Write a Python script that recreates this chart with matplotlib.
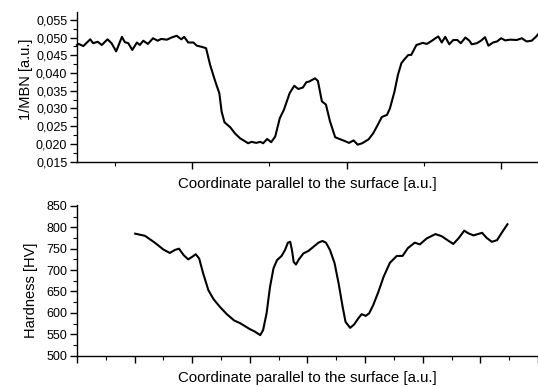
import matplotlib
matplotlib.use("Agg")
from matplotlib import pyplot as plt
from matplotlib.ticker import FixedLocator, MultipleLocator, FuncFormatter

# 1/MBN profile (upper panel), position in a.u.
mbn_x = [0.00, 0.03, 0.11, 0.23, 0.28, 0.36, 0.43, 0.53, 0.60, 0.68, 0.78, 0.83,
         0.89, 0.96, 1.04, 1.09, 1.15, 1.23, 1.32, 1.40, 1.46, 1.56, 1.64, 1.73,
         1.81, 1.86, 1.93, 2.02, 2.08, 2.16, 2.24, 2.31, 2.40, 2.47, 2.51, 2.56,
         2.66, 2.74, 2.83, 2.92, 2.97, 3.03, 3.11, 3.18, 3.23, 3.30, 3.37, 3.44,
         3.52, 3.59, 3.69, 3.77, 3.84, 3.92, 3.98, 4.03, 4.13, 4.18, 4.25, 4.32,
         4.39, 4.48, 4.57, 4.65, 4.72, 4.80, 4.87, 4.95, 5.06, 5.14, 5.22, 5.29,
         5.38, 5.43, 5.51, 5.57, 5.63, 5.69, 5.75, 5.80, 5.89, 5.95, 6.00, 6.07,
         6.16, 6.22, 6.27, 6.33, 6.39, 6.46, 6.53, 6.60, 6.66, 6.74, 6.81, 6.85,
         6.94, 7.01, 7.08, 7.14, 7.22, 7.29, 7.36, 7.43, 7.52, 7.63, 7.72, 7.80,
         7.89, 7.97, 8.00]
mbn_y = [0.0479, 0.0482, 0.0476, 0.0495, 0.0484, 0.0488, 0.0479, 0.0495, 0.0484,
         0.0461, 0.0502, 0.0487, 0.0484, 0.0465, 0.0486, 0.0479, 0.0491, 0.0482,
         0.0498, 0.0491, 0.0496, 0.0494, 0.0500, 0.0505, 0.0495, 0.0502, 0.0486,
         0.0486, 0.0477, 0.0474, 0.0470, 0.0423, 0.0376, 0.0343, 0.0291, 0.0261,
         0.0247, 0.0230, 0.0216, 0.0207, 0.0202, 0.0206, 0.0203, 0.0206, 0.0202,
         0.0214, 0.0205, 0.0221, 0.0273, 0.0296, 0.0343, 0.0364, 0.0355, 0.0359,
         0.0374, 0.0376, 0.0385, 0.0378, 0.0320, 0.0311, 0.0264, 0.0219, 0.0213,
         0.0208, 0.0203, 0.0210, 0.0198, 0.0202, 0.0213, 0.0230, 0.0254, 0.0276,
         0.0282, 0.0300, 0.0348, 0.0395, 0.0428, 0.0440, 0.0451, 0.0451, 0.0479,
         0.0482, 0.0485, 0.0482, 0.0491, 0.0498, 0.0503, 0.0486, 0.0502, 0.0481,
         0.0493, 0.0493, 0.0484, 0.0500, 0.0491, 0.0481, 0.0484, 0.0491, 0.0501,
         0.0477, 0.0486, 0.0489, 0.0498, 0.0492, 0.0494, 0.0493, 0.0498, 0.0489,
         0.0491, 0.0503, 0.0509]

# Hardness profile (lower panel)
hv_x = [1.01, 1.18, 1.35, 1.50, 1.61, 1.70, 1.77, 1.85, 1.93, 2.00, 2.06, 2.12,
        2.19, 2.28, 2.37, 2.48, 2.60, 2.66, 2.73, 2.83, 3.00, 3.09, 3.18, 3.23,
        3.29, 3.35, 3.41, 3.47, 3.55, 3.61, 3.66, 3.70, 3.73, 3.76, 3.80, 3.85,
        3.93, 4.02, 4.10, 4.19, 4.26, 4.32, 4.39, 4.47, 4.54, 4.61, 4.66, 4.74,
        4.81, 4.88, 4.94, 5.01, 5.07, 5.14, 5.23, 5.32, 5.43, 5.55, 5.65, 5.74,
        5.86, 5.95, 6.07, 6.22, 6.33, 6.45, 6.53, 6.62, 6.72, 6.79, 6.88, 7.03,
        7.11, 7.20, 7.29, 7.37, 7.47]
hv_y = [785, 780, 764, 748, 740, 747, 750, 735, 725, 731, 737, 727,
        692, 653, 632, 614, 597, 590, 582, 576, 562, 556, 548, 560,
        599, 661, 704, 723, 733, 747, 764, 766, 747, 719, 713, 725,
        739, 745, 754, 764, 768, 764, 747, 716, 669, 614, 579, 565,
        573, 587, 597, 593, 599, 618, 649, 684, 717, 733, 733, 751,
        764, 760, 774, 784, 779, 768, 761, 774, 792, 786, 781, 787,
        775, 766, 770, 787, 807]

xlabel = "Coordinate parallel to the surface [a.u.]"

plt.rcParams["font.family"] = "Liberation Sans"

fig = plt.figure(figsize=(5.38, 3.87), dpi=100)
ax1 = fig.add_axes([0.1431, 0.5822, 0.8569, 0.3868])
ax2 = fig.add_axes([0.1431, 0.0809, 0.8569, 0.3894])

comma = FuncFormatter(lambda v, p: ("%.3f" % v).replace(".", ","))

for ax in (ax1, ax2):
    ax.spines["top"].set_visible(False)
    ax.spines["right"].set_visible(False)
    ax.spines["left"].set_linewidth(1.0)
    ax.spines["bottom"].set_linewidth(1.0)
    ax.set_xlim(0, 8)
    ax.tick_params(which="major", direction="out", length=5, width=1.0, labelsize=9, pad=2)
    ax.tick_params(which="minor", direction="out", length=3, width=0.8)
    ax.tick_params(axis="x", labelbottom=False)

ax1.plot(mbn_x, mbn_y, color="black", lw=1.5, clip_on=False)
ax1.set_ylim(0.015, 0.0572)
ax1.yaxis.set_major_locator(FixedLocator([0.015, 0.020, 0.025, 0.030, 0.035, 0.040, 0.045, 0.050, 0.055]))
ax1.yaxis.set_minor_locator(MultipleLocator(0.0025))
ax1.yaxis.set_major_formatter(comma)
ax1.xaxis.set_major_locator(FixedLocator([2.0, 4.68, 7.36]))
ax1.xaxis.set_minor_locator(FixedLocator([0.66, 3.34, 6.02]))
ax1.set_ylabel("1/MBN [a.u.]", fontsize=10.5)
ax1.set_xlabel(xlabel, fontsize=10.8)

ax2.plot(hv_x, hv_y, color="black", lw=1.5, solid_joinstyle="round")
ax2.set_ylim(500, 852)
ax2.yaxis.set_major_locator(MultipleLocator(50))
ax2.yaxis.set_minor_locator(MultipleLocator(25))
ax2.xaxis.set_major_locator(MultipleLocator(1))
ax2.xaxis.set_minor_locator(MultipleLocator(0.5))
ax2.set_ylabel("Hardness [HV]", fontsize=10.5)
ax2.set_xlabel(xlabel, fontsize=10.8)

ax1.yaxis.set_label_coords(-0.1106, 0.552)
ax2.yaxis.set_label_coords(-0.0998, 0.436)
ax1.xaxis.set_label_coords(0.5, -0.146)
ax2.xaxis.set_label_coords(0.5, -0.145)
for lab in (ax1.yaxis.label, ax2.yaxis.label, ax1.xaxis.label, ax2.xaxis.label):
    lab.set_verticalalignment("center")

fig.savefig("out.png", dpi=100)
